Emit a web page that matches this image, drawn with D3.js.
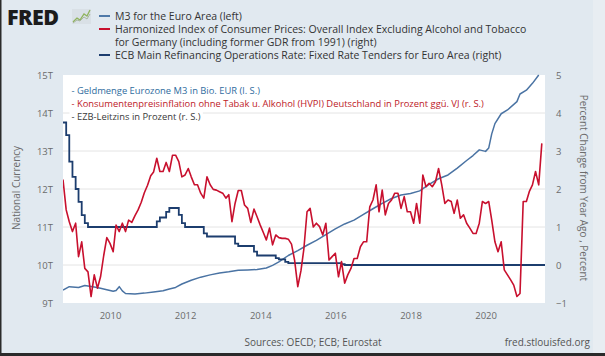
<!DOCTYPE html>
<html><head><meta charset="utf-8">
<script src="https://cdn.jsdelivr.net/npm/d3@7"></script>
<style>
html,body{margin:0;padding:0;background:#e1e9f0;}
svg{display:block;}
</style>
</head><body>
<svg id="chart" width="605" height="356"></svg>
<script>
// ---------------- DATA ----------------
const hicpStart = "2008-10";
// German HICP excl. alcohol & tobacco, % change y/y, monthly from Oct 2008
const hicpValues = [
 2.25,1.45,1.14,
 0.88,1.10,0.22,0.61,-0.09,-0.18,-0.83,-0.26,-0.61,-0.31,0.25,0.72,
 0.57,0.35,1.05,0.88,1.10,0.88,1.18,1.12,1.30,1.45,1.65,1.90,
 2.10,2.35,2.45,2.81,2.46,2.46,2.70,2.46,2.89,2.89,2.72,2.32,
 2.37,2.54,2.32,2.11,2.11,1.89,1.76,2.32,2.11,1.99,1.97,1.93,
 1.89,1.76,1.85,1.14,1.62,1.96,1.96,1.58,1.49,1.12,1.47,1.27,
 1.05,0.85,0.66,0.97,0.53,0.79,0.72,0.70,0.70,0.68,0.55,0.13,
 -0.57,-0.15,0.42,1.40,1.49,1.00,1.10,1.01,0.79,1.10,0.13,0.22,
 0.31,-0.31,0.09,-0.48,-0.26,-0.09,0.17,0.17,0.48,0.61,0.61,1.53,
 1.71,2.11,1.40,1.97,1.32,1.62,1.71,1.89,1.89,1.49,1.80,1.40,
 1.40,1.10,1.62,1.10,2.37,2.06,2.15,2.06,2.19,2.54,2.11,1.62,
 1.71,1.67,1.36,1.71,1.23,1.32,1.10,0.97,0.83,0.83,1.10,1.67,
 1.62,1.67,1.18,0.61,0.35,0.61,-0.13,-0.26,-0.39,-0.53,-0.83,-0.75,
 1.67,1.67,1.93,2.11,2.46,2.11,3.20
];
// ECB main refinancing rate (monthly averages), change points
const ecbDates = ["2008-10","2008-11","2008-12","2009-01","2009-02","2009-03","2009-04","2009-05","2009-06",
  "2011-04","2011-05","2011-07","2011-08","2011-11","2011-12","2012-01","2012-07","2012-08",
  "2013-05","2013-06","2013-11","2013-12","2014-06","2014-07","2014-09","2014-10","2016-03","2016-04","2021-08"];
const ecbRates = [3.75,3.42,2.72,2.32,2.00,1.66,1.31,1.10,1.00,
  1.15,1.25,1.40,1.50,1.32,1.10,1.00,0.83,0.75,
  0.56,0.50,0.35,0.25,0.18,0.15,0.08,0.05,0.02,0.00,0.00];
// M3 for the Euro Area, trillions
const m3Dates = ["2008-10","2008-12","2009-03","2009-05","2009-08","2009-10","2009-12","2010-02","2010-03","2010-04","2010-05","2010-06",
  "2010-09","2010-12","2011-03","2011-06","2011-08","2011-10","2011-12","2012-03","2012-06","2012-09","2012-12",
  "2013-03","2013-06","2013-09","2013-12","2014-03","2014-05","2014-07","2014-10","2015-01","2015-04","2015-07","2015-10",
  "2016-01","2016-04","2016-07","2016-10","2017-01","2017-04","2017-07","2017-10","2018-01","2018-04","2018-07","2018-10",
  "2019-01","2019-04","2019-07","2019-09","2019-11","2020-01","2020-02","2020-03","2020-04","2020-06","2020-08","2020-11",
  "2020-12","2021-02","2021-04","2021-06"];
const m3Values = [9.34,9.43,9.41,9.46,9.42,9.39,9.35,9.31,9.33,9.43,9.32,9.25,
  9.24,9.26,9.29,9.32,9.37,9.41,9.50,9.60,9.68,9.74,9.79,
  9.82,9.86,9.87,9.88,9.92,9.99,10.08,10.25,10.38,10.52,10.65,10.80,
  10.95,11.08,11.18,11.33,11.48,11.62,11.75,11.84,11.88,11.95,12.12,12.27,
  12.37,12.55,12.75,12.88,13.03,12.99,13.08,13.45,13.72,13.98,14.08,14.30,
  14.50,14.60,14.78,15.00];

const leftTicks = [9,10,11,12,13,14,15];
const leftTickLabels = ["9T","10T","11T","12T","13T","14T","15T"];
const rightTicks = [-1,0,1,2,3,4,5];
const yearTicks = [2010,2012,2014,2016,2018,2020];
const xDomain = ["2008-10","2021-08"];

const legendItems = [
  {lines:["M3 for the Euro Area (left)"], color:"#4f79a8"},
  {lines:["Harmonized Index of Consumer Prices: Overall Index Excluding Alcohol and Tobacco","for Germany (including former GDR from 1991) (right)"], color:"#c8102e"},
  {lines:["ECB Main Refinancing Operations Rate: Fixed Rate Tenders for Euro Area (right)"], color:"#1c3d6e"}
];
const noteLines = [
  {text:"- Geldmenge Eurozone M3 in Bio. EUR (l. S.)", color:"#2f6c9e"},
  {text:"- Konsumentenpreisinflation ohne Tabak u. Alkohol (HVPI) Deutschland in Prozent ggü. VJ (r. S.)", color:"#bd2128"},
  {text:"- EZB-Leitzins in Prozent (r. S.)", color:"#3a3a3a"}
];

// ---------------- DRAW ----------------
const parse = d3.utcParse("%Y-%m");
const svg = d3.select("#chart");
const W = 605, H = 356;
const P = {l:63, r:545, t:75, b:303};
const font = "'Open Sans', sans-serif";

svg.append("rect").attr("width",W).attr("height",H).attr("fill","#e1e9f0");
svg.append("rect").attr("x",593).attr("width",12).attr("height",H).attr("fill","#e8edf2");
svg.append("rect").attr("x",0).attr("width",1.5).attr("height",H).attr("fill","#2a2a2a");
svg.append("rect").attr("y",353).attr("width",W).attr("height",3).attr("fill","#2a2a2a");

const x = d3.scaleUtc().domain(xDomain.map(parse)).range([P.l,P.r]);
const yL = d3.scaleLinear().domain([9,15]).range([P.b,P.t]);
const yR = d3.scaleLinear().domain([-1,5]).range([P.b,P.t]);

svg.append("rect").attr("x",P.l).attr("y",P.t).attr("width",P.r-P.l).attr("height",P.b-P.t).attr("fill","#ffffff");

// gridlines
svg.append("g").selectAll("line").data(leftTicks.filter(t=>t>9&&t<15)).join("line")
  .attr("x1",P.l).attr("x2",P.r).attr("y1",d=>yL(d)).attr("y2",d=>yL(d))
  .attr("stroke","#e4e4e4").attr("stroke-width",1);

// axes
const axL = svg.append("g").attr("transform",`translate(${P.l-10},0)`)
  .call(d3.axisLeft(yL).tickValues(leftTicks).tickFormat((d,i)=>leftTickLabels[i]).tickSize(0).tickPadding(0));
const axR = svg.append("g").attr("transform",`translate(${P.r+11},0)`)
  .call(d3.axisRight(yR).tickValues(rightTicks).tickFormat(d3.format("d")).tickSize(0).tickPadding(0));
const axX = svg.append("g").attr("transform",`translate(0,${P.b+9})`)
  .call(d3.axisBottom(x).tickValues(yearTicks.map(y=>new Date(Date.UTC(y,0,1)))).tickFormat(d3.utcFormat("%Y")).tickSize(0).tickPadding(0));
[axL,axR,axX].forEach(a=>{
  a.select(".domain").remove();
  a.selectAll("text").attr("fill","#6b6b6b").style("font-family",font).style("font-size","9.5px");
});
axX.selectAll("text").attr("dy","0.71em");

// axis titles
svg.append("text").attr("transform","translate(20,188) rotate(-90)").attr("text-anchor","middle")
  .attr("fill","#6b6b6b").style("font-family",font).style("font-size","10px").text("National Currency");
svg.append("text").attr("transform","translate(580,188) rotate(90)").attr("text-anchor","middle")
  .attr("fill","#6b6b6b").style("font-family",font).style("font-size","10px").text("Percent Change from Year Ago , Percent");

// clip
svg.append("clipPath").attr("id","plotclip").append("rect")
  .attr("x",P.l).attr("y",P.t-2).attr("width",P.r-P.l).attr("height",P.b-P.t+4);

// annotation notes (white boxes behind text)
const notes = svg.append("g");
const noteY = [94,106.5,119.5];
noteLines.forEach((n,i)=>{
  const bg = notes.append("rect").attr("fill","#ffffff");
  const t = notes.append("text").attr("x",71.5).attr("y",noteY[i]).attr("fill",n.color)
    .style("font-family",font).style("font-size","9.4px").text(n.text);
  const bb = t.node().getBBox();
  bg.attr("x",bb.x-2).attr("y",bb.y).attr("width",bb.width+4).attr("height",bb.height);
});

const plot = svg.append("g").attr("clip-path","url(#plotclip)");

const m3Data = m3Dates.map((d,i)=>({d:parse(d),v:m3Values[i]}));
const hStart = parse(hicpStart);
const hicpData = hicpValues.map((v,i)=>({d:d3.utcMonth.offset(hStart,i),v}));
const ecbData = ecbDates.map((d,i)=>({d:parse(d),v:ecbRates[i]}));

plot.append("path").datum(m3Data)
  .attr("d",d3.line().x(d=>x(d.d)).y(d=>yL(d.v)))
  .attr("fill","none").attr("stroke","#4a73a3").attr("stroke-width",1.5).attr("stroke-linejoin","round");
plot.append("path").datum(ecbData)
  .attr("d",d3.line().curve(d3.curveStepAfter).x(d=>x(d.d)).y(d=>yR(d.v)))
  .attr("fill","none").attr("stroke","#1c3d6e").attr("stroke-width",1.8);
plot.append("path").datum(hicpData)
  .attr("d",d3.line().x(d=>x(d.d)).y(d=>yR(d.v)))
  .attr("fill","none").attr("stroke","#c8102e").attr("stroke-width",1.6).attr("stroke-linejoin","round");

// FRED logo
svg.append("text").attr("x",7).attr("y",25).attr("fill","#1c1c1c")
  .style("font-family","'Open Sans', sans-serif").style("font-weight","800").style("font-size","21.5px")
  .style("letter-spacing","-0.6px").text("FRED");
const icon = svg.append("g");
icon.append("rect").attr("x",72).attr("y",9).attr("width",19).attr("height",15).attr("fill","#d9e0e6");
icon.append("polyline").attr("points","73,22 77,18 80,20 84,14 87,16 90,10")
  .attr("fill","none").attr("stroke","#8fb35d").attr("stroke-width",1.3);
icon.append("polyline").attr("points","73,23 77,20 80,21 84,17 87,19 90,14")
  .attr("fill","none").attr("stroke","#a9b8a0").attr("stroke-width",1);

// top legend
const legBase = [20,33,59];
const leg = svg.append("g");
legendItems.forEach((it,i)=>{
  leg.append("line").attr("x1",99).attr("x2",110).attr("y1",legBase[i]-4).attr("y2",legBase[i]-4)
    .attr("stroke",it.color).attr("stroke-width",2);
  it.lines.forEach((ln,j)=>{
    leg.append("text").attr("x",115).attr("y",legBase[i]+j*13).attr("fill","#333")
      .style("font-family",font).style("font-size","10.5px").text(ln);
  });
});

// footer
svg.append("text").attr("x",313).attr("y",345.5).attr("text-anchor","middle").attr("fill","#555")
  .style("font-family",font).style("font-size","10px").text("Sources: OECD; ECB; Eurostat");
svg.append("text").attr("x",590).attr("y",345.5).attr("text-anchor","end").attr("fill","#555")
  .style("font-family",font).style("font-size","10px").text("fred.stlouisfed.org");
</script>
</body></html>
